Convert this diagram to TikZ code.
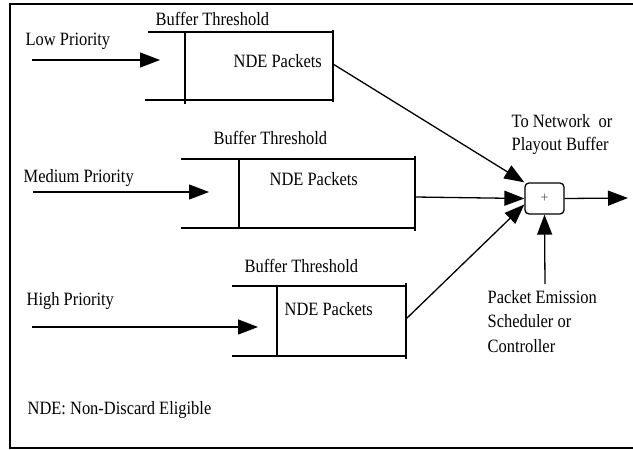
\documentclass[tikz,border=0pt]{standalone}
\usepackage{fontspec}
\setmainfont{Liberation Serif}[FakeStretch=0.875]
\usetikzlibrary{arrows.meta}
\begin{document}
\begin{tikzpicture}[x=1pt,y=-1pt,line width=1.3pt,
  lbl/.style={font=\fontsize{18.8}{23}\selectfont,inner sep=0pt,anchor=base west,align=left},
  arr/.style={-{Triangle[length=20pt,width=15pt]}},
  wire/.style={line width=1.3pt}]
\useasboundingbox (0,0) rectangle (633,450);
% outer frame (open on the right)
\draw[line width=1.8pt] (634,4) -- (10,4) -- (10,448) -- (634,448);

% ---- low priority queue ----
\draw[wire] (148,32) -- (333,32);
\draw[wire] (145,100) -- (333,100);
\draw[wire] (185,32) -- (185,104);
\draw[wire] (333,30) -- (333,102);
\coordinate (q1in) at (32,60);
\coordinate (q1end) at (160,60);
\coordinate (q1out) at (333,64);
\node[lbl] (lowlbl) at (25,45) {Low Priority};
\node[lbl] (thr1) at (155,25) {Buffer Threshold};
\node[lbl] (nde1) at (233,67) {NDE Packets};

% ---- medium priority queue ----
\draw[wire] (181,159) -- (415,159);
\draw[wire] (181,228) -- (415,228);
\draw[wire] (239,159) -- (239,228);
\draw[wire] (415,156) -- (415,231);
\coordinate (q2in) at (33,192);
\coordinate (q2end) at (209,192);
\coordinate (q2out) at (415,197);
\node[lbl] (medlbl) at (23,182) {Medium Priority};
\node[lbl] (thr2) at (213,144) {Buffer Threshold};
\node[lbl] (nde2) at (269,185) {NDE Packets};

% ---- high priority queue ----
\draw[wire] (232,286) -- (406,286);
\draw[wire] (232,356) -- (406,356);
\draw[wire] (277,286) -- (277,356);
\draw[wire] (406,283) -- (406,359);
\coordinate (q3in) at (32,327);
\coordinate (q3end) at (258,327);
\coordinate (q3out) at (406,319);
\node[lbl] (highlbl) at (26,305) {High Priority};
\node[lbl] (thr3) at (244,272) {Buffer Threshold};
\node[lbl] (nde3) at (284,315) {NDE Packets};

% ---- multiplexer ----
\node[draw,rounded corners=4pt,minimum width=39pt,minimum height=31pt,
      inner sep=0pt,line width=1.3pt,font=\fontsize{15}{15}\selectfont,
      text=black!70]
      (mux) at (544.5,198.5) {+};
\coordinate (outend) at (628,198);
\coordinate (ctlstart) at (545,284);
% multi-line labels: anchored on the baseline of their last line
\node[lbl] (netlbl) at (511,150) {To Network\ \ or\\Playout Buffer};
\node[lbl,font=\fontsize{18.8}{24.5}\selectfont] (ctllbl) at (487,352)
      {Packet Emission\\Scheduler or\\Controller};
\node[lbl] (key) at (27,414) {NDE: Non-Discard Eligible};

% ---- connectors ----
\draw[arr] (q1in) -- (q1end);
\draw[arr] (q2in) -- (q2end);
\draw[arr] (q3in) -- (q3end);
\draw[arr] (q1out) -- (mux.north west);
\draw[arr] (q2out) -- (mux.west);
\draw[arr] (q3out) -- ([yshift=-6pt]mux.west);
\draw[arr] (mux.east) -- (outend);
\draw[arr] (ctlstart) -- (mux.south);
\end{tikzpicture}
\end{document}
